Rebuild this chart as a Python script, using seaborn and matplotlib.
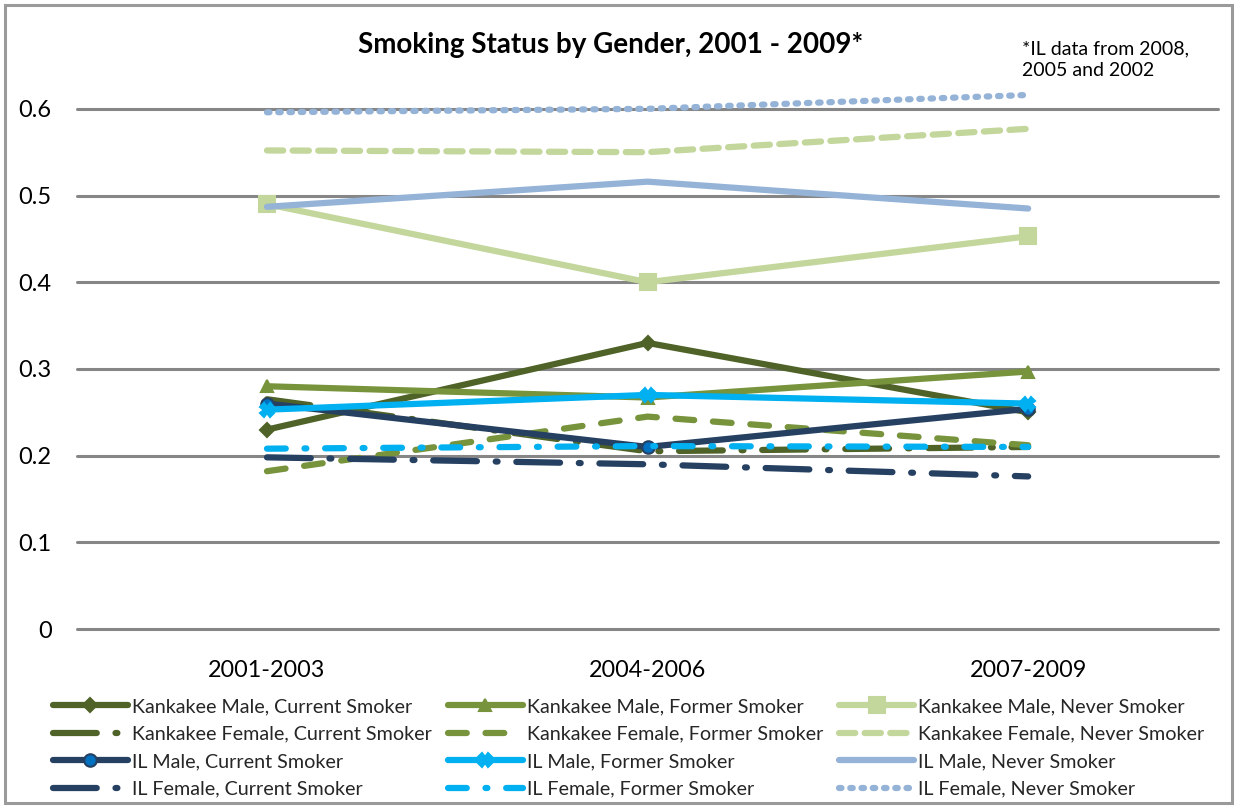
import matplotlib
matplotlib.use("Agg")
import matplotlib.pyplot as plt
from matplotlib.patches import Rectangle
import seaborn as sns
import pandas as pd

# Period labels on the x axis
periods = ["2001-2003", "2004-2006", "2007-2009"]

# Share of respondents by smoking status
kankakee_male_current = [0.23, 0.33, 0.25]
kankakee_male_former = [0.28, 0.267, 0.297]
kankakee_male_never = [0.49, 0.40, 0.453]
kankakee_female_current = [0.265, 0.205, 0.21]
kankakee_female_former = [0.182, 0.245, 0.212]
kankakee_female_never = [0.552, 0.55, 0.577]
il_male_current = [0.26, 0.21, 0.254]
il_male_former = [0.253, 0.27, 0.26]
il_male_never = [0.487, 0.516, 0.485]
il_female_current = [0.198, 0.19, 0.176]
il_female_former = [0.208, 0.211, 0.21]
il_female_never = [0.596, 0.60, 0.616]

y_ticks = [0, 0.1, 0.2, 0.3, 0.4, 0.5, 0.6]
y_tick_labels = ["0", "0.1", "0.2", "0.3", "0.4", "0.5", "0.6"]

title = "Smoking Status by Gender, 2001 - 2009*"
note = "*IL data from 2008,\n2005 and 2002"

DARK_OLIVE = "#4F6228"
OLIVE = "#77933C"
PALE_GREEN = "#C3D69B"
NAVY = "#254061"
CYAN = "#00B0F0"
STEEL = "#95B3D7"

LW = 4.5
series = [
    # name, values, color, linestyle, marker, marker size, marker face
    ("Kankakee Male, Current Smoker", kankakee_male_current, DARK_OLIVE, "-", "D", 7, DARK_OLIVE),
    ("Kankakee Male, Former Smoker", kankakee_male_former, OLIVE, "-", "^", 9, OLIVE),
    ("Kankakee Male, Never Smoker", kankakee_male_never, PALE_GREEN, "-", "s", 11, PALE_GREEN),
    ("Kankakee Female, Current Smoker", kankakee_female_current, DARK_OLIVE, (0, (7, 3, 0.3, 3)), None, 0, None),
    ("Kankakee Female, Former Smoker", kankakee_female_former, OLIVE, (0, (3, 3)), None, 0, None),
    ("Kankakee Female, Never Smoker", kankakee_female_never, PALE_GREEN, (0, (2.6, 1.5)), None, 0, None),
    ("IL Male, Current Smoker", il_male_current, NAVY, "-", "o", 9, "#0070C0"),
    ("IL Male, Former Smoker", il_male_former, CYAN, "-", "X", 10, CYAN),
    ("IL Male, Never Smoker", il_male_never, STEEL, "-", None, 0, None),
    ("IL Female, Current Smoker", il_female_current, NAVY, (0, (7, 3, 0.3, 3)), None, 0, None),
    ("IL Female, Former Smoker", il_female_former, CYAN, (0, (3, 3, 0.3, 3)), None, 0, None),
    ("IL Female, Never Smoker", il_female_never, STEEL, (0, (0.4, 1.4)), None, 0, None),
]

sns.set_theme(style="white")
plt.rcParams["font.family"] = ["Lato", "DejaVu Sans"]

fig = plt.figure(figsize=(12.37, 8.06), dpi=100)
ax = fig.add_axes([0.062, 0.2196, 0.923, 0.6884])

handles = {}
for name, vals, color, ls, marker, ms, mfc in series:
    df = pd.DataFrame({"x": range(len(periods)), "y": vals})
    sns.lineplot(data=df, x="x", y="y", ax=ax, color=color, linewidth=LW,
                 linestyle=ls, marker=marker, markersize=ms,
                 markerfacecolor=mfc, markeredgecolor=color if marker else None,
                 markeredgewidth=1.5, dash_capstyle="round",
                 solid_capstyle="round", label=name, legend=False, zorder=3)
    handles[name] = ax.get_lines()[-1]

ax.set_xlim(-0.5, 2.5)
ax.set_ylim(0, 0.64)
ax.set_xticks(range(len(periods)))
ax.set_xticklabels(periods)
ax.set_yticks(y_ticks)
ax.set_yticklabels(y_tick_labels)
ax.set_xlabel("")
ax.set_ylabel("")
ax.tick_params(axis="x", length=0, pad=22, labelsize=16.8, labelcolor="black")
ax.tick_params(axis="y", length=0, pad=18, labelsize=17, labelcolor="black")
for s in ax.spines.values():
    s.set_visible(False)
for t in y_ticks:
    ax.axhline(t, color="#868686", linewidth=2.2, zorder=1, clip_on=False)

fig.text(0.494, 0.944, title, ha="center", va="center", fontsize=20,
         fontweight="bold", color="black")
fig.text(0.826, 0.926, note, ha="left", va="center", fontsize=14,
         color="black", linespacing=1.3)

# legend laid out row by row across three columns
order = [0, 3, 6, 9, 1, 4, 7, 10, 2, 5, 8, 11]
leg_handles = [handles[series[i][0]] for i in order]
leg_labels = [series[i][0] for i in order]
fig.legend(leg_handles, leg_labels, loc="lower left",
           bbox_to_anchor=(0.0283, -0.0117), ncol=3, frameon=False,
           fontsize=14.2, handlelength=3.8, handletextpad=0.22,
           columnspacing=0.8, labelspacing=0.53, numpoints=1)

fig.patches.append(Rectangle((0.004, 0.004), 0.992, 0.99, transform=fig.transFigure,
                             fill=False, edgecolor="#9A9A9A", linewidth=2.2))

fig.savefig("out.png", dpi=100)
